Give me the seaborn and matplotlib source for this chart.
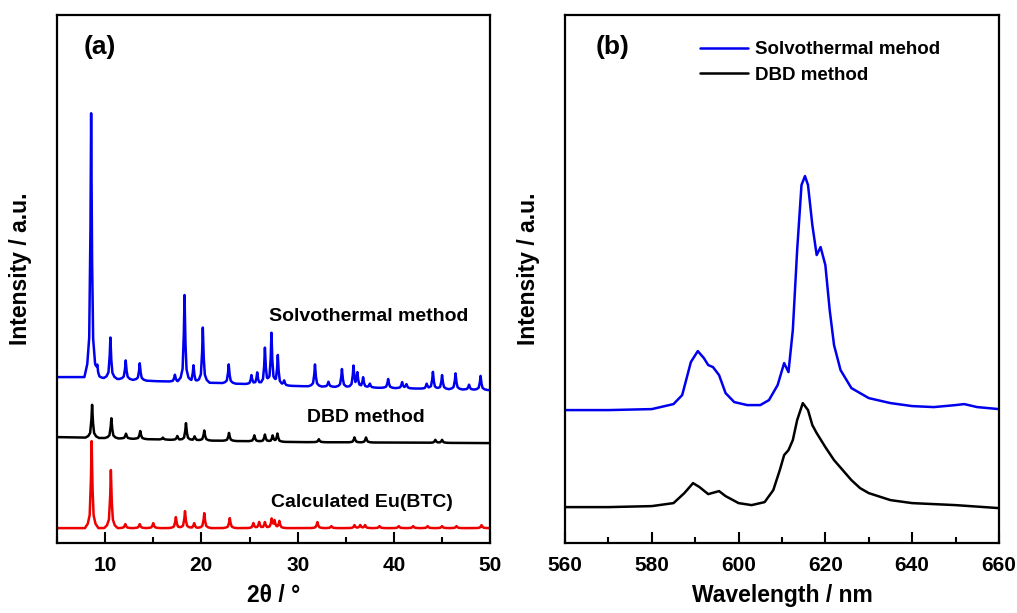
import numpy as np
import pandas as pd
import matplotlib
matplotlib.use("Agg")
import matplotlib.pyplot as plt
import seaborn as sns

sns.set_theme(style="white")
plt.rcParams['font.family'] = ['Liberation Sans', 'DejaVu Sans']
plt.rcParams['font.weight'] = 'bold'
plt.rcParams['text.color'] = 'black'
plt.rcParams['axes.labelcolor'] = 'black'
plt.rcParams['xtick.color'] = 'black'
plt.rcParams['ytick.color'] = 'black'

# ---------------- Panel (a): XRD data ----------------
# Solvothermal (blue)
solvo_base_x = [5, 8, 15, 22, 30, 40, 50]
solvo_base_y = [166, 166, 162, 160, 157, 155, 153]
solvo_peak_pos = [8.55, 9.2, 10.55, 12.14, 13.6, 17.25, 18.25, 19.18, 20.15, 22.84,
                  25.2, 25.8, 26.6, 27.28, 27.94, 28.6, 31.8, 33.2, 34.6, 35.8,
                  36.2, 36.8, 37.5, 39.4, 40.85, 41.3, 43.4, 44.05, 45.0, 46.4,
                  47.8, 49.0]
solvo_peak_h = [264, 11, 41, 19, 17, 7, 87, 17, 55, 19,
                9, 12, 37, 52, 30, 5, 22, 5, 18, 21,
                14, 10, 4, 9, 6, 4, 5, 17, 14, 16,
                5, 14]

# DBD (black)
dbd_base_x = [5, 10, 18, 30, 50]
dbd_base_y = [106, 105, 103, 101, 100]
dbd_peak_pos = [8.65, 10.65, 12.17, 13.65, 16.0, 17.5, 18.4, 19.3, 20.3, 22.87,
                25.5, 26.6, 27.4, 27.9, 32.2, 35.9, 37.1, 44.3, 45.0]
dbd_peak_h = [33, 20, 5, 8, 2, 4, 17, 4, 10, 8,
              6, 7, 6, 8, 3, 5, 5, 3, 3]

# Calculated Eu(BTC) (red)
calc_base_x = [5, 50]
calc_base_y = [15, 15]
calc_peak_pos = [8.6, 10.6, 12.1, 13.6, 15.0, 17.35, 18.3, 19.25, 20.3, 22.95,
                 25.4, 26.0, 26.6, 27.3, 27.6, 28.1, 32.05, 33.5, 35.9, 36.5,
                 37.0, 38.5, 40.5, 42.0, 43.5, 45.0, 46.5, 49.1]
calc_peak_h = [87, 58, 4, 4, 5, 11, 17, 5, 15, 10,
               5, 6, 6, 9, 7, 7, 6, 2, 3, 3,
               3, 2, 2, 2, 2, 2, 2, 3]

# ---------------- Panel (b): PL data ----------------
pl_solvo_wl = [560, 570, 580, 585, 587, 589, 590.6, 592, 593, 594.1, 595.5, 597, 599,
               602, 605, 607, 609, 610.5, 611.5, 612.5, 613.5, 614.5, 615.3, 616, 617,
               618, 618.9, 620, 621, 622, 623.5, 626, 630, 635, 640, 645, 650, 652,
               655, 660]
pl_solvo_int = [133, 133, 134, 139, 148, 181, 192, 185, 178, 176, 168, 150, 141,
                138, 138, 143, 158, 180, 171, 213, 293, 358, 367, 358, 318,
                288, 296, 278, 233, 198, 173, 155, 145, 140, 137, 136, 138, 139,
                136, 134]
pl_dbd_wl = [560, 570, 580, 585, 587.5, 589.5, 591, 593, 595.5, 597, 600, 603, 606,
             608, 609.5, 610.5, 611.5, 612.5, 613.5, 614.8, 616, 617, 618, 619, 620,
             622, 624, 626, 628, 630, 635, 640, 650, 660]
pl_dbd_int = [36, 36, 37, 40, 50, 60, 56, 49, 52, 47, 40, 38, 41,
              53, 73, 88, 93, 103, 123, 140, 133, 118, 110, 103, 96,
              83, 73, 63, 55, 50, 43, 40, 38, 35]

# peak profile template (shape only)
tpl_dx = [-0.7, -0.4, -0.2, -0.08, 0.0, 0.08, 0.2, 0.4, 0.7]
tpl_fr = [0.0, 0.05, 0.15, 0.5, 1.0, 0.5, 0.15, 0.05, 0.0]


def xrd_profile(bx, by, pos, h):
    x = np.arange(5, 50.001, 0.01)
    y = np.interp(x, bx, by).astype(float)
    for p, hh in zip(pos, h):
        y += hh * np.interp(x - p, tpl_dx, tpl_fr)
    return x, y


fig = plt.figure(figsize=(10.17, 6.13), dpi=100)
ax1 = fig.add_axes([0.056, 0.114, 0.426, 0.8615])
ax2 = fig.add_axes([0.5556, 0.114, 0.4266, 0.8615])

series = [
    (solvo_base_x, solvo_base_y, solvo_peak_pos, solvo_peak_h, '#0000ee'),
    (dbd_base_x, dbd_base_y, dbd_peak_pos, dbd_peak_h, '#000000'),
    (calc_base_x, calc_base_y, calc_peak_pos, calc_peak_h, '#ee0000'),
]
for bx, by, pos, h, col in series:
    x, y = xrd_profile(bx, by, pos, h)
    df = pd.DataFrame({'x': x, 'y': y})
    sns.lineplot(data=df, x='x', y='y', ax=ax1, color=col, lw=1.8,
                 estimator=None, sort=False)

ax1.set_xlim(5, 50)
ax1.set_ylim(0, 528)
ax1.set_xticks([10, 20, 30, 40, 50])
ax1.set_xticks([5, 15, 25, 35, 45], minor=True)
ax1.set_yticks([])
ax1.set_xlabel('2θ / °', fontsize=16.5, fontweight='bold', labelpad=7)
ax1.set_ylabel('Intensity / a.u.', fontsize=16.5, fontweight='bold')
ax1.yaxis.set_label_coords(-0.058, 0.52)
ax1.text(0.1, 0.94, '(a)', transform=ax1.transAxes, fontsize=19, fontweight='bold',
         ha='center', va='center')
ax1.text(0.72, 0.429, 'Solvothermal method', transform=ax1.transAxes, fontsize=14,
         fontweight='bold', ha='center', va='center')
ax1.text(0.714, 0.237, 'DBD method', transform=ax1.transAxes, fontsize=14,
         fontweight='bold', ha='center', va='center')
ax1.text(0.703, 0.076, 'Calculated Eu(BTC)', transform=ax1.transAxes, fontsize=14,
         fontweight='bold', ha='center', va='center')

df_s = pd.DataFrame({'wl': pl_solvo_wl, 'I': pl_solvo_int})
df_d = pd.DataFrame({'wl': pl_dbd_wl, 'I': pl_dbd_int})
sns.lineplot(data=df_s, x='wl', y='I', ax=ax2, color='#0000ee', lw=1.8,
             estimator=None, label='Solvothermal mehod')
sns.lineplot(data=df_d, x='wl', y='I', ax=ax2, color='#000000', lw=1.8,
             estimator=None, label='DBD method')
ax2.set_xlim(560, 660)
ax2.set_ylim(0, 528)
ax2.set_xticks([560, 580, 600, 620, 640, 660])
ax2.set_xticks([570, 590, 610, 630, 650], minor=True)
ax2.set_yticks([])
ax2.set_xlabel('Wavelength / nm', fontsize=16.5, fontweight='bold', labelpad=7)
ax2.set_ylabel('Intensity / a.u.', fontsize=16.5, fontweight='bold')
ax2.yaxis.set_label_coords(-0.058, 0.52)
ax2.text(0.11, 0.94, '(b)', transform=ax2.transAxes, fontsize=19, fontweight='bold',
         ha='center', va='center')
leg = ax2.legend(loc='upper left', bbox_to_anchor=(0.28, 0.975), frameon=False,
                 fontsize=13.5, handlelength=2.6, handletextpad=0.35,
                 labelspacing=0.45, borderaxespad=0.3)
for t in leg.get_texts():
    t.set_fontweight('bold')

for ax in (ax1, ax2):
    for s in ax.spines.values():
        s.set_linewidth(1.6)
        s.set_color('black')
    ax.tick_params(axis='x', which='major', direction='in', length=8, width=1.5,
                   labelsize=15, pad=9, bottom=True, top=False)
    ax.tick_params(axis='x', which='minor', direction='in', length=4.5, width=1.5,
                   bottom=True, top=False)
    for lab in ax.get_xticklabels():
        lab.set_fontweight('bold')

fig.savefig('out.png', dpi=100, facecolor='white')
